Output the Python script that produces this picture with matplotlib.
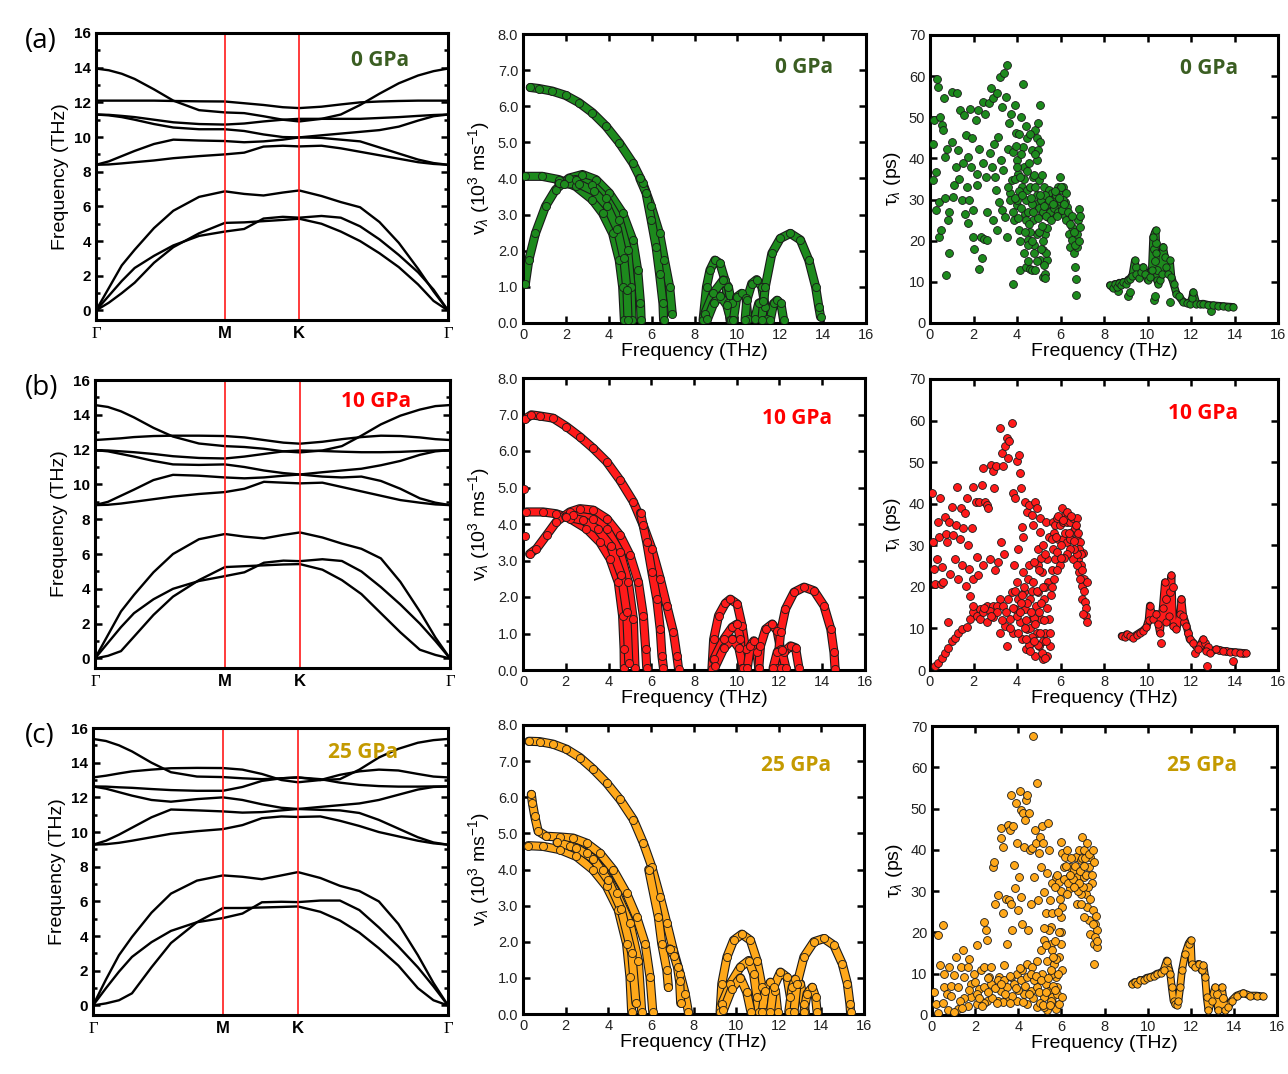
import numpy as np
import matplotlib
matplotlib.use("Agg")
import matplotlib.pyplot as plt
import matplotlib.patheffects as pe

plt.rcParams['font.family'] = ['Liberation Sans', 'DejaVu Sans']
plt.rcParams['mathtext.fontset'] = 'custom'
plt.rcParams['mathtext.rm'] = 'Liberation Sans'
plt.rcParams['mathtext.it'] = 'Liberation Sans:italic'

# ---- phonon dispersion (k path: G - M - K - G) ----
K_PATH = [0, 0.1, 0.2, 0.3, 0.45, 0.6, 0.8, 1.0, 1.15, 1.3, 1.45, 1.577,
          1.75, 1.9, 2.05, 2.2, 2.35, 2.5, 2.62, 2.732]
K_TICKS = [0, 1.0, 1.577, 2.732]
K_LABELS = ['Γ', 'M', 'K', 'Γ']

BANDS_0GPA = [
    [0, 1.3, 2.6, 3.5, 4.75, 5.75, 6.55, 6.87, 6.72, 6.63, 6.8, 6.92, 6.6, 6.25, 5.95, 5.1, 3.9, 2.4, 1.1, 0],
    [0, 0.45, 1.0, 1.6, 2.75, 3.65, 4.45, 5.05, 5.08, 5.15, 5.22, 5.29, 5.0, 4.55, 4.0, 3.3, 2.5, 1.5, 0.55, 0],
    [0, 0.85, 1.7, 2.45, 3.15, 3.75, 4.3, 4.55, 4.7, 5.3, 5.4, 5.35, 5.45, 5.35, 4.85, 4.1, 3.2, 2.2, 1.2, 0],
    [8.4, 8.42, 8.48, 8.55, 8.65, 8.78, 8.9, 9.0, 9.1, 9.45, 9.5, 9.46, 9.5, 9.35, 9.15, 8.95, 8.75, 8.55, 8.45, 8.4],
    [8.4, 8.6, 8.9, 9.2, 9.6, 9.85, 9.8, 9.77, 9.7, 9.75, 9.85, 9.98, 9.95, 9.85, 9.75, 9.4, 9.05, 8.7, 8.5, 8.4],
    [11.3, 11.25, 11.15, 11.0, 10.75, 10.55, 10.45, 10.45, 10.35, 10.15, 10.0, 9.98, 10.1, 10.2, 10.3, 10.4, 10.6, 10.95, 11.2, 11.3],
    [11.3, 11.28, 11.22, 11.15, 11.0, 10.85, 10.75, 10.72, 10.78, 10.9, 11.0, 11.05, 11.05, 11.05, 11.05, 11.1, 11.15, 11.22, 11.27, 11.3],
    [12.1, 12.1, 12.1, 12.1, 12.1, 12.08, 12.06, 12.05, 11.95, 11.85, 11.72, 11.67, 11.75, 11.88, 12.0, 12.05, 12.08, 12.1, 12.1, 12.1],
    [13.95, 13.85, 13.65, 13.35, 12.75, 12.1, 11.55, 11.42, 11.38, 11.2, 11.0, 10.9, 11.05, 11.3, 11.85, 12.5, 13.1, 13.55, 13.8, 13.95],
]
BANDS_10GPA = [
    [0, 1.35, 2.7, 3.65, 4.95, 6.0, 6.85, 7.15, 7.0, 6.9, 7.1, 7.24, 6.95, 6.6, 6.3, 5.75, 4.4, 2.7, 1.2, 0],
    [0, 0.15, 0.42, 1.25, 2.5, 3.55, 4.5, 5.25, 5.3, 5.35, 5.4, 5.42, 5.1, 4.5, 3.7, 2.6, 1.5, 0.5, 0.2, 0],
    [0, 0.9, 1.8, 2.6, 3.4, 4.0, 4.45, 4.73, 4.95, 5.5, 5.62, 5.59, 5.7, 5.6, 5.0, 4.1, 3.1, 2.0, 1.0, 0],
    [8.81, 8.83, 8.9, 9.0, 9.15, 9.3, 9.45, 9.56, 9.75, 10.15, 10.1, 10.06, 10.1, 9.85, 9.6, 9.35, 9.1, 8.95, 8.85, 8.81],
    [8.81, 9.0, 9.35, 9.7, 10.25, 10.55, 10.5, 10.4, 10.35, 10.4, 10.5, 10.57, 10.45, 10.4, 10.45, 10.2, 9.75, 9.2, 8.95, 8.81],
    [11.97, 11.9, 11.75, 11.6, 11.35, 11.15, 11.12, 11.15, 11.0, 10.8, 10.65, 10.57, 10.7, 10.8, 10.9, 11.1, 11.35, 11.7, 11.9, 11.97],
    [11.97, 11.95, 11.9, 11.85, 11.75, 11.62, 11.52, 11.49, 11.6, 11.75, 11.9, 11.95, 11.92, 11.88, 11.85, 11.85, 11.87, 11.92, 11.95, 11.97],
    [12.55, 12.6, 12.65, 12.72, 12.78, 12.8, 12.8, 12.78, 12.7, 12.55, 12.4, 12.34, 12.45, 12.6, 12.72, 12.8, 12.78, 12.7, 12.6, 12.55],
    [14.56, 14.45, 14.2, 13.85, 13.25, 12.75, 12.35, 12.2, 12.15, 12.05, 11.9, 11.84, 11.95, 12.2, 12.8, 13.45, 13.95, 14.3, 14.5, 14.56],
]
BANDS_25GPA = [
    [0, 1.5, 2.9, 3.95, 5.35, 6.45, 7.2, 7.5, 7.42, 7.28, 7.5, 7.69, 7.35, 6.9, 6.6, 6.0, 4.7, 2.9, 1.3, 0],
    [0, 0.12, 0.3, 0.7, 2.2, 3.6, 4.8, 5.62, 5.62, 5.65, 5.68, 5.71, 5.4, 4.9, 4.2, 3.3, 2.3, 1.0, 0.3, 0],
    [0, 1.0, 1.95, 2.8, 3.65, 4.3, 4.8, 5.04, 5.3, 5.95, 5.98, 5.96, 6.05, 6.05, 5.5, 4.5, 3.4, 2.2, 1.1, 0],
    [9.27, 9.3, 9.38, 9.5, 9.7, 9.9, 10.05, 10.17, 10.4, 10.8, 10.9, 10.87, 10.9, 10.65, 10.35, 10.0, 9.75, 9.5, 9.35, 9.27],
    [9.27, 9.5, 9.85, 10.25, 10.85, 11.3, 11.25, 11.19, 11.12, 11.15, 11.25, 11.33, 11.28, 11.25, 11.1, 10.7, 10.2, 9.7, 9.4, 9.27],
    [12.63, 12.5, 12.3, 12.1, 11.85, 11.75, 11.9, 12.0, 11.85, 11.6, 11.4, 11.33, 11.45, 11.55, 11.65, 11.85, 12.15, 12.45, 12.6, 12.63],
    [12.63, 12.62, 12.58, 12.55, 12.48, 12.42, 12.38, 12.38, 12.6, 12.95, 13.1, 13.15, 13.05, 12.85, 12.72, 12.65, 12.62, 12.62, 12.63, 12.63],
    [13.15, 13.25, 13.38, 13.5, 13.6, 13.68, 13.7, 13.69, 13.6, 13.35, 13.0, 12.87, 13.0, 13.3, 13.5, 13.6, 13.55, 13.35, 13.2, 13.15],
    [15.37, 15.25, 15.0, 14.65, 14.0, 13.45, 13.2, 13.17, 13.1, 13.05, 13.1, 13.15, 13.0, 13.05, 13.6, 14.3, 14.8, 15.15, 15.3, 15.37],
]

# ---- group velocity branches: (frequency THz, velocity 1e3 m/s) ----
VEL_0GPA = [
    ([0.34, 0.74, 1.36, 1.99, 2.61, 3.24, 3.87, 4.49, 5.12, 5.59, 5.98, 6.37, 6.6, 6.84, 6.96],
     [6.52, 6.49, 6.42, 6.3, 6.1, 5.82, 5.45, 4.99, 4.43, 3.87, 3.23, 2.48, 1.74, 1.0, 0.26]),
    ([5.45, 5.74, 5.98, 6.21, 6.37, 6.53, 6.56], [4.0, 3.6, 2.85, 2.11, 1.37, 0.54, 0.07]),
    ([0.11, 0.89, 1.67, 2.46, 3.24, 3.71, 4.18, 4.49, 4.65, 4.73],
     [4.06, 4.06, 3.97, 3.78, 3.41, 3.04, 2.48, 1.74, 1.0, 0.07]),
    ([0.11, 0.27, 0.58, 1.05, 1.52, 2.14, 2.77, 3.4, 4.02, 4.65, 5.12, 5.35, 5.48, 5.51],
     [1.09, 1.74, 2.48, 3.23, 3.69, 4.01, 4.11, 3.97, 3.6, 3.04, 2.3, 1.46, 0.54, 0.07]),
    ([1.67, 2.46, 3.24, 3.87, 4.49, 4.88, 5.04, 5.09], [3.87, 3.97, 3.83, 3.46, 2.85, 2.02, 1.0, 0.07]),
    ([1.9, 2.6, 3.3, 3.9, 4.4, 4.7, 4.85, 4.9], [3.85, 3.85, 3.65, 3.25, 2.6, 1.8, 0.9, 0.07]),
    ([8.4, 8.56, 8.72, 8.95, 9.19, 9.42, 9.58, 9.66], [0.07, 1.0, 1.46, 1.74, 1.65, 1.19, 0.54, 0.07]),
    ([8.48, 8.87, 9.34, 9.58, 9.73, 9.81], [0.26, 0.82, 1.19, 1.0, 0.54, 0.07]),
    ([8.6, 8.9, 9.2, 9.5, 9.7], [0.1, 0.55, 0.75, 0.5, 0.07]),
    ([9.81, 9.97, 10.2, 10.4, 10.5], [0.07, 0.72, 0.82, 0.7, 0.1]),
    ([10.36, 10.44, 10.67, 10.9, 11.14, 11.3, 11.35], [0.07, 0.63, 1.09, 1.2, 1.0, 0.44, 0.07]),
    ([10.8, 11.0, 11.2, 11.4], [0.1, 0.55, 0.6, 0.1]),
    ([11.14, 11.3, 11.61, 12.0, 12.47, 12.94, 13.33, 13.65, 13.8, 13.88],
     [0.07, 1.0, 1.93, 2.34, 2.48, 2.3, 1.74, 1.0, 0.44, 0.17]),
    ([11.53, 11.69, 11.85, 12.03, 12.16], [0.07, 0.54, 0.63, 0.54, 0.07]),
]
VEL_10GPA = [
    ([0.08, 0.39, 0.78, 1.41, 2.03, 2.66, 3.29, 3.91, 4.54, 5.16, 5.63, 6.03, 6.42, 6.73, 7.04, 7.2, 7.28],
     [6.87, 6.99, 6.96, 6.9, 6.67, 6.39, 6.07, 5.71, 5.2, 4.61, 3.96, 3.32, 2.5, 1.76, 1.03, 0.39, 0.02]),
    ([5.5, 5.79, 6.03, 6.26, 6.42, 6.5, 6.57], [4.3, 3.5, 2.68, 1.94, 1.12, 0.39, 0.06]),
    ([0.16, 0.94, 1.56, 2.19, 2.97, 3.6, 4.07, 4.46, 4.66, 4.73, 4.74],
     [4.33, 4.33, 4.28, 4.15, 3.87, 3.5, 3.05, 2.4, 1.49, 0.57, 0.06]),
    ([0.31, 0.63, 1.1, 1.56, 2.19, 2.66, 3.29, 3.91, 4.54, 5.01, 5.4, 5.63, 5.74, 5.79],
     [3.18, 3.32, 3.69, 4.06, 4.33, 4.42, 4.38, 4.15, 3.69, 3.14, 2.4, 1.49, 0.57, 0.06]),
    ([2.35, 3.29, 3.91, 4.54, 4.93, 5.16, 5.24], [4.24, 4.15, 3.87, 3.23, 2.4, 1.39, 0.06]),
    ([2.0, 2.8, 3.5, 4.1, 4.6, 4.85, 4.95], [4.2, 4.1, 3.85, 3.4, 2.6, 1.6, 0.2]),
    ([0.05], [4.97]),
    ([0.1], [3.67]),
    ([8.84, 8.92, 9.15, 9.47, 9.7, 10.02, 10.25, 10.41, 10.49], [0.02, 0.84, 1.49, 1.83, 1.94, 1.81, 1.21, 0.57, 0.05]),
    ([8.92, 9.39, 9.78, 10.02, 10.17, 10.25], [0.29, 0.84, 1.17, 1.26, 0.84, 0.05]),
    ([9.0, 9.4, 9.8, 10.1, 10.3], [0.1, 0.6, 0.85, 0.6, 0.05]),
    ([10.49, 10.64, 10.8, 10.95, 11.03], [0.05, 0.66, 0.8, 0.48, 0.05]),
    ([11.03, 11.11, 11.35, 11.66, 11.89, 12.05, 12.13], [0.05, 0.66, 1.12, 1.26, 1.07, 0.57, 0.05]),
    ([11.89, 12.05, 12.28, 12.68, 13.15, 13.62, 14.08, 14.4, 14.55, 14.6],
     [0.05, 1.03, 1.67, 2.13, 2.27, 2.17, 1.76, 1.12, 0.48, 0.02]),
    ([12.05, 12.2, 12.52, 12.75, 12.91], [0.05, 0.48, 0.66, 0.61, 0.05]),
    ([11.7, 11.9, 12.1, 12.3], [0.05, 0.5, 0.55, 0.05]),
]
VEL_25GPA = [
    ([0.27, 0.78, 1.41, 2.04, 2.67, 3.29, 3.92, 4.55, 5.18, 5.65, 6.04, 6.43, 6.75, 7.06, 7.37, 7.61, 7.76],
     [7.55, 7.54, 7.47, 7.33, 7.1, 6.78, 6.4, 5.94, 5.38, 4.73, 4.08, 3.25, 2.51, 1.76, 1.11, 0.56, 0.05]),
    ([5.9, 6.35, 6.51, 6.75, 6.82], [4.0, 2.69, 1.95, 1.21, 0.74]),
    ([6.9, 7.1, 7.25, 7.35, 7.4], [1.8, 1.6, 1.3, 0.9, 0.3]),
    ([0.39, 0.44, 0.55, 0.71, 1.1, 1.73, 2.35, 2.98, 3.61, 4.24, 4.86, 5.33, 5.73, 5.96, 6.09],
     [6.08, 5.85, 5.48, 5.06, 4.92, 4.9, 4.87, 4.73, 4.45, 3.99, 3.34, 2.69, 1.95, 1.02, 0.05]),
    ([0.24, 0.94, 1.73, 2.51, 3.29, 3.92, 4.47, 4.86, 5.02, 5.1],
     [4.66, 4.64, 4.55, 4.36, 3.99, 3.53, 2.88, 1.95, 1.02, 0.05]),
    ([2.2, 2.98, 3.76, 4.39, 5.02, 5.41, 5.57], [4.64, 4.45, 3.99, 3.34, 2.51, 1.48, 0.05]),
    ([1.6, 2.5, 3.3, 4.0, 4.6, 5.1, 5.3], [4.75, 4.6, 4.3, 3.7, 2.9, 1.7, 0.3]),
    ([9.25, 9.33, 9.57, 9.88, 10.27, 10.67, 10.98, 11.22, 11.33], [0.05, 0.84, 1.58, 2.04, 2.21, 2.04, 1.48, 0.74, 0.05]),
    ([9.33, 9.73, 10.2, 10.59, 10.82, 10.98, 11.06], [0.28, 0.84, 1.3, 1.48, 1.11, 0.46, 0.05]),
    ([9.4, 9.8, 10.2, 10.5, 10.7], [0.1, 0.7, 1.0, 0.6, 0.05]),
    ([11.22, 11.37, 11.61, 11.84, 11.95], [0.05, 0.65, 0.88, 0.65, 0.05]),
    ([11.61, 11.76, 12.08, 12.39, 12.55, 12.63], [0.05, 0.74, 1.16, 1.02, 0.46, 0.05]),
    ([12.47, 12.63, 12.78, 13.02, 13.18, 13.25], [0.05, 0.74, 0.97, 0.84, 0.28, 0.05]),
    ([13.18, 13.33, 13.57, 13.73, 13.8], [0.05, 0.56, 0.74, 0.46, 0.05]),
    ([12.71, 12.86, 13.18, 13.65, 14.12, 14.59, 14.98, 15.22, 15.34, 15.37],
     [0.05, 0.84, 1.58, 2.0, 2.09, 1.9, 1.39, 0.84, 0.28, 0.05]),
]

# ---- phonon lifetimes, scattered modes: (frequency THz, lifetime ps) ----
TAU_0GPA = [
    (0.12, 34.7), (0.15, 43.6), (0.18, 49.3), (0.26, 36.7), (0.26, 27.4), (0.31, 59.4), (0.35, 57.4),
    (0.46, 50.1), (0.41, 29.4), (0.43, 20.9), (0.49, 22.5), (0.54, 48.1), (0.61, 46.9), (0.64, 54.6),
    (0.69, 40.4), (0.67, 30.4), (0.72, 11.6), (0.8, 42.4), (0.84, 25.0), (0.87, 16.9), (0.89, 27.0),
    (1.0, 44.0), (1.03, 56.2), (1.07, 30.7), (1.1, 33.5), (1.19, 38.0), (1.26, 55.8), (1.3, 42.0),
    (1.35, 35.1), (1.38, 51.7), (1.45, 29.8), (1.53, 38.8), (1.58, 50.5), (1.61, 26.6), (1.64, 45.7),
    (1.68, 33.1), (1.73, 40.4), (1.76, 24.2), (1.81, 29.8), (1.84, 52.1), (1.88, 38.0), (1.91, 44.9),
    (1.96, 27.4), (1.99, 20.9), (2.04, 18.1), (2.11, 49.3), (2.14, 36.3), (2.17, 33.5), (2.22, 51.7),
    (2.25, 42.4), (2.27, 13.2), (2.33, 20.9), (2.37, 15.7), (2.42, 38.8), (2.45, 53.8), (2.48, 20.5),
    (2.53, 50.9), (2.57, 35.5), (2.6, 27.0), (2.63, 20.1), (2.73, 53.4), (2.76, 41.2), (2.79, 57.0),
    (2.83, 38.0), (2.88, 25.0), (2.91, 54.6), (2.94, 43.6), (2.99, 35.5), (3.03, 32.3), (3.06, 55.8),
    (3.09, 22.5), (3.14, 45.3), (3.17, 29.4), (3.22, 59.9), (3.26, 39.6), (3.29, 27.4), (3.32, 52.6),
    (3.37, 37.1), (3.4, 60.7), (3.45, 25.8), (3.49, 55.0), (3.52, 20.9), (3.55, 62.7), (3.6, 42.4),
    (3.64, 48.5), (3.68, 31.5), (3.72, 50.9), (3.75, 34.7), (3.8, 41.6), (3.83, 9.6), (3.86, 25.0),
    (3.9, 53.0), (3.94, 46.1), (3.98, 39.6), (4.01, 28.6), (4.06, 36.3), (4.09, 22.5), (4.13, 12.8),
    (4.17, 50.1), (4.21, 33.1), (4.26, 42.8), (4.29, 58.2), (4.32, 38.0), (4.36, 26.6), (4.41, 13.6),
    (4.44, 44.9), (4.47, 32.3), (4.52, 20.1), (4.56, 38.8), (4.59, 29.8), (4.62, 13.2), (4.67, 42.0),
    (4.72, 25.0), (4.75, 35.5), (4.78, 16.9), (4.82, 46.9), (4.87, 29.0), (4.9, 39.6), (4.93, 21.7),
    (4.98, 48.5), (5.01, 34.7), (5.05, 15.2), (5.08, 53.0), (5.13, 26.6), (5.18, 17.7), (5.21, 11.2),
    (5.25, 33.1), (5.28, 21.7), (5.33, 29.8), (5.36, 15.2), (5.44, 25.8), (5.48, 32.3), (5.51, 28.2),
    (5.59, 31.5), (5.67, 26.6), (5.74, 30.7), (5.82, 28.2), (5.9, 33.1), (5.97, 35.5), (6.0, 29.4),
    (6.05, 32.3), (6.13, 33.1), (6.2, 29.4), (6.25, 31.5), (6.31, 28.2), (6.36, 25.0), (6.4, 21.7),
    (6.43, 18.5), (6.51, 23.4), (6.55, 20.1), (6.62, 16.9), (6.66, 13.6), (6.71, 10.8), (6.71, 6.7),
    (6.74, 18.5), (6.77, 21.7), (6.81, 25.0), (6.86, 27.8), (6.89, 23.4),
    (4.0, 30.0), (4.1, 32.0), (4.2, 28.0), (4.3, 35.0), (4.4, 30.0), (4.5, 27.0), (4.6, 33.0),
    (4.7, 29.0), (4.8, 36.0), (4.9, 31.0), (5.0, 28.0), (5.1, 30.0), (5.2, 27.0), (5.3, 31.0),
    (5.4, 29.0), (5.5, 27.0), (5.6, 30.0), (5.7, 28.0), (5.8, 31.0), (5.9, 27.0), (6.0, 33.0),
    (6.1, 30.0), (6.2, 26.0), (3.6, 33.0), (3.7, 30.0), (3.8, 27.0), (3.9, 35.0), (4.0, 38.0),
    (4.2, 41.0), (4.4, 25.0), (4.6, 22.0), (4.8, 19.0), (5.0, 22.0), (5.2, 20.0), (5.4, 23.0),
    (4.5, 15.0), (4.7, 13.0), (5.3, 12.0), (5.25, 14.0), (5.35, 17.0),
    (3.9, 30.5), (4.05, 25.5), (4.15, 35.5), (4.25, 31.0), (4.35, 22.0), (4.45, 37.0), (4.55, 24.0),
    (4.65, 30.5), (4.75, 27.0), (4.85, 33.0), (4.95, 25.5), (5.05, 31.0), (5.15, 23.5), (5.25, 28.5),
    (5.35, 26.0), (5.45, 30.0), (5.55, 25.0), (5.65, 29.0), (5.75, 32.0), (5.85, 26.0), (5.95, 30.5),
    (6.05, 27.5), (6.15, 29.0), (6.25, 25.0), (6.35, 27.0), (6.45, 24.0), (6.55, 26.0), (6.6, 22.0),
    (6.65, 19.0), (6.85, 20.0), (6.9, 26.0), (4.9, 45.0), (4.95, 42.0), (5.05, 44.0), (4.85, 41.0),
    (4.6, 46.0), (4.4, 48.0), (4.1, 46.0), (3.95, 43.0), (4.15, 20.0), (4.3, 17.0), (4.5, 19.0),
    (4.7, 20.0), (4.9, 15.0), (5.1, 18.0), (5.3, 11.0), (4.85, 13.0), (5.15, 36.0),
    (8.65, 7.8), (9.1, 6.5), (9.2, 7.5), (9.45, 13.5), (10.3, 18.0), (10.3, 5.5), (10.33, 15.0),
    (10.35, 6.5), (10.4, 19.5), (10.42, 13.0), (11.05, 5.2), (12.9, 3.0),
]
TAU_10GPA = [
    (0.08, 42.5), (0.15, 30.8), (0.2, 24.4), (0.23, 20.7), (0.31, 26.8), (0.38, 35.7), (0.41, 32.0),
    (0.46, 41.3), (0.49, 20.7), (0.54, 24.8), (0.61, 21.1), (0.69, 36.9), (0.74, 32.8), (0.8, 30.8),
    (0.84, 11.5), (0.89, 35.7), (0.92, 23.2), (1.0, 39.3), (1.07, 32.4), (1.15, 26.8), (1.19, 34.9),
    (1.26, 44.1), (1.3, 22.0), (1.38, 31.6), (1.42, 38.9), (1.49, 25.2), (1.53, 34.1), (1.61, 37.7),
    (1.65, 20.3), (1.72, 41.3), (1.76, 30.0), (1.81, 24.4), (1.84, 17.9), (1.91, 34.1), (1.96, 44.1),
    (1.99, 22.0), (2.11, 40.5), (2.14, 27.2), (2.22, 22.8), (2.27, 40.5), (2.37, 44.6), (2.42, 48.6),
    (2.45, 25.2), (2.53, 40.5), (2.6, 39.7), (2.68, 38.9), (2.76, 26.8), (2.79, 49.4), (2.88, 47.8),
    (2.94, 43.7), (2.99, 24.0), (3.03, 49.0), (3.14, 26.0), (3.22, 58.3), (3.25, 30.8), (3.29, 52.2),
    (3.37, 49.0), (3.4, 28.0), (3.45, 53.8), (3.52, 55.9), (3.57, 51.0), (3.64, 55.0), (3.75, 59.5),
    (3.83, 42.5), (3.86, 25.2), (3.9, 41.3), (3.98, 50.2), (4.06, 29.2), (4.1, 51.8), (4.13, 47.4),
    (4.18, 43.7), (4.21, 34.5), (4.26, 32.0), (4.36, 40.5), (4.44, 38.1), (4.56, 39.7), (4.67, 37.3),
    (4.75, 34.9), (4.82, 40.5), (4.9, 38.9), (4.98, 25.2), (5.05, 36.5),
    (0.23, 1.0), (0.38, 1.8), (0.54, 3.0), (0.69, 4.2), (0.84, 5.4), (1.0, 7.0), (1.15, 7.8),
    (1.3, 9.0), (1.45, 9.8), (1.68, 10.3), (1.84, 12.3), (1.99, 13.9), (2.3, 14.7), (2.6, 15.5),
    (2.91, 15.5), (3.22, 17.1),
    (1.99, 15.5), (2.14, 13.1), (2.3, 12.3), (2.45, 13.9), (2.6, 11.5), (2.76, 14.3), (2.91, 12.7),
    (3.06, 15.5), (3.22, 9.0), (3.37, 15.5), (3.45, 10.7), (3.52, 5.8), (3.6, 17.1), (3.68, 12.3),
    (3.75, 18.7), (3.83, 9.0), (3.9, 14.7), (3.98, 21.1), (4.06, 17.1), (4.13, 11.5), (4.21, 7.4),
    (4.26, 23.6), (4.32, 18.7), (4.36, 14.7), (4.41, 5.0), (4.47, 9.8), (4.52, 22.0), (4.56, 25.2),
    (4.59, 17.1), (4.64, 6.6), (4.69, 12.3), (4.75, 21.1), (4.79, 26.0), (4.84, 3.4), (4.87, 15.5),
    (4.9, 9.0), (4.95, 29.2), (4.98, 18.7), (5.02, 5.8), (5.05, 33.3), (5.1, 12.3), (5.15, 23.6),
    (5.18, 2.6), (5.21, 30.0), (5.25, 17.1), (5.28, 9.0), (5.33, 35.7), (5.36, 26.8), (5.39, 3.4),
    (5.44, 21.1), (5.48, 12.3), (5.51, 5.8), (4.4, 12.0), (4.6, 10.0), (4.8, 12.5), (5.0, 14.0),
    (5.2, 7.0), (4.3, 20.0), (4.7, 19.0), (5.1, 27.0), (5.3, 20.0), (4.0, 13.0), (3.8, 15.0),
    (4.05, 9.0), (4.15, 14.0), (4.25, 18.0), (4.35, 10.0), (4.45, 16.0), (4.55, 6.0), (4.65, 14.0),
    (4.7, 8.0), (4.85, 11.0), (4.9, 19.0), (4.95, 6.0), (5.0, 24.0), (5.05, 9.0), (5.1, 16.0),
    (5.15, 4.0), (5.2, 20.0), (5.25, 12.0), (5.3, 28.0), (5.35, 7.0), (5.4, 15.0), (5.45, 32.0),
    (5.5, 9.0), (5.3, 3.0), (4.8, 7.0), (4.6, 4.5), (4.4, 7.5), (4.2, 16.0), (3.9, 19.0), (3.7, 10.0),
    (3.5, 14.0), (3.3, 12.0), (3.1, 14.0), (2.8, 13.0), (2.5, 15.0), (5.55, 18.0), (5.6, 24.0),
    (5.65, 29.0), (5.7, 33.0),
    (5.59, 31.6), (5.67, 35.7), (5.74, 34.9), (5.82, 36.5), (5.9, 31.6), (5.97, 34.9), (6.05, 38.9),
    (6.13, 35.7), (6.2, 37.3), (6.28, 35.7), (6.36, 36.9), (6.43, 35.7), (6.51, 33.3), (6.58, 36.5),
    (6.66, 34.1), (6.74, 36.5), (6.77, 31.6), (6.81, 26.8), (6.86, 23.6), (6.89, 30.8), (6.94, 25.2),
    (6.98, 20.3), (7.01, 17.1), (7.04, 28.2), (7.07, 21.9), (7.12, 16.3), (7.17, 13.1), (7.2, 11.5),
    (7.2, 21.1), (5.74, 26.8), (5.82, 28.4), (5.97, 25.2), (6.13, 31.6), (6.28, 30.8), (6.43, 31.6),
    (6.58, 26.8), (6.74, 25.2), (5.8, 32.0), (5.9, 37.0), (6.0, 30.0), (6.1, 36.0), (6.2, 33.0),
    (6.3, 38.0), (6.4, 33.0), (6.5, 37.0), (6.6, 31.0), (6.7, 35.0), (6.8, 33.0), (6.85, 29.0),
    (6.95, 28.0), (7.0, 24.0), (7.1, 19.0), (7.15, 15.0), (7.05, 13.5), (6.9, 22.0), (6.75, 28.0),
    (6.6, 29.0), (6.45, 29.0), (6.3, 28.0), (6.15, 27.0), (6.0, 27.0), (5.85, 24.0), (5.7, 22.0),
    (5.6, 20.0),
    (10.64, 6.6), (10.85, 17.0), (11.03, 18.7), (11.15, 20.0), (11.7, 11.5), (11.85, 9.0),
    (12.17, 4.2), (12.4, 6.0), (12.65, 6.5), (12.74, 1.0), (12.8, 5.5), (13.3, 4.8), (13.6, 4.5),
    (13.94, 2.2), (14.4, 4.1),
]
TAU_25GPA = [
    (0.08, 5.5), (0.18, 2.7), (0.26, 19.3), (0.37, 12.0), (0.49, 21.7), (0.54, 10.0), (0.57, 6.7),
    (0.69, 5.1), (0.8, 11.6), (0.88, 7.1), (1.03, 9.6), (1.11, 14.0), (1.22, 6.7), (1.34, 11.6),
    (1.42, 15.7), (1.49, 9.2), (1.65, 11.6), (1.73, 13.6), (1.8, 7.5), (1.96, 10.0), (2.11, 16.9),
    (2.19, 6.3), (2.27, 10.8), (2.39, 22.5), (2.42, 11.6), (2.5, 20.5), (2.57, 18.1), (2.65, 9.2),
    (2.73, 11.6), (2.82, 35.9), (2.88, 37.1), (2.91, 27.0), (3.04, 29.0), (3.11, 9.2), (3.19, 45.3),
    (3.22, 42.8), (3.27, 40.8), (3.31, 24.6), (3.34, 12.0), (3.42, 28.2), (3.5, 17.3), (3.53, 46.1),
    (3.57, 27.8), (3.62, 44.9), (3.65, 53.4), (3.68, 27.0), (3.73, 20.5), (3.77, 45.7), (3.8, 36.3),
    (3.84, 30.7), (3.88, 51.3), (3.96, 41.6), (4.0, 25.4), (4.04, 33.5), (4.07, 54.2), (4.11, 49.7),
    (4.14, 28.6), (4.19, 22.1), (4.24, 48.9), (4.27, 40.8), (4.31, 47.3), (4.36, 52.1), (4.42, 53.4),
    (4.45, 20.5), (4.5, 48.9), (4.55, 40.0), (4.58, 27.0), (4.64, 40.4), (4.68, 67.6), (4.73, 33.5),
    (4.78, 44.9), (4.82, 41.6), (4.88, 56.2), (4.92, 27.8), (4.96, 39.2), (5.01, 43.2), (5.07, 35.9),
    (5.12, 45.7), (5.16, 41.6), (5.19, 29.8), (5.27, 24.6), (5.35, 34.3), (5.38, 46.5), (5.42, 40.0),
    (5.47, 27.8), (5.5, 21.3), (5.58, 24.6),
    (0.26, 0.6), (0.72, 1.1), (1.19, 1.5), (1.65, 2.3), (2.11, 2.7), (2.57, 3.5), (3.04, 3.5),
    (3.5, 3.9), (3.96, 3.5), (4.42, 2.7), (4.88, 1.9), (5.35, 1.1), (1.8, 4.3), (2.11, 5.1),
    (2.42, 6.7), (2.73, 7.5), (3.04, 8.4), (3.34, 8.4), (3.65, 9.2), (3.96, 10.0), (4.19, 10.8),
    (4.42, 12.4), (4.65, 11.6), (4.88, 13.2), (5.12, 10.0), (5.27, 7.5), (5.42, 5.9), (5.58, 4.3),
    (5.65, 2.7), (5.73, 1.5), (4.27, 5.1), (4.58, 5.9), (4.88, 6.7), (5.19, 4.3), (5.5, 3.5),
    (3.19, 5.9), (3.5, 6.7), (3.8, 7.5), (4.11, 8.4), (4.42, 9.2), (4.73, 8.4), (5.04, 15.7),
    (5.19, 18.1), (5.35, 13.2), (5.42, 20.5), (5.5, 17.3), (5.58, 15.7), (5.65, 12.4), (5.73, 9.2),
    (5.81, 5.1), (5.88, 2.7), (5.81, 6.7), (5.96, 23.8), (5.99, 17.3), (6.04, 26.2), (6.04, 10.8),
    (6.04, 4.3), (1.0, 0.8), (2.4, 3.0), (2.8, 4.0), (3.3, 3.2), (4.7, 4.0), (5.0, 3.0), (5.2, 2.0),
    (4.0, 6.0), (3.7, 4.5), (2.0, 8.0), (2.6, 9.0), (1.5, 4.0), (5.6, 7.0), (5.9, 14.0), (6.0, 20.0),
    (0.5, 3.0), (0.9, 4.5), (1.3, 3.5), (1.7, 6.0), (2.2, 4.0), (2.6, 5.5), (2.9, 6.5), (3.2, 7.5),
    (3.4, 5.0), (3.6, 9.5), (3.9, 6.5), (4.1, 11.5), (4.3, 7.0), (4.5, 5.0), (4.6, 10.0), (4.8, 9.5),
    (4.95, 5.5), (5.05, 8.5), (5.15, 2.5), (5.3, 5.5), (5.45, 2.5), (5.55, 10.0), (5.7, 6.0),
    (5.75, 13.5), (5.85, 10.0), (5.9, 20.0), (5.95, 28.0), (6.0, 30.0), (5.85, 25.0), (5.7, 18.0),
    (5.6, 14.0), (5.5, 11.0), (5.4, 9.0), (5.3, 17.0), (5.2, 21.0), (4.2, 3.2), (3.6, 3.0),
    (3.0, 2.8), (2.3, 2.2), (1.4, 1.8),
    (5.58, 31.9), (5.73, 33.5), (5.88, 32.3), (5.96, 42.0), (6.04, 39.2), (6.12, 35.9), (6.19, 38.3),
    (6.27, 40.0), (6.35, 33.5), (6.42, 35.9), (6.5, 31.9), (6.58, 35.1), (6.66, 38.3), (6.73, 33.5),
    (6.81, 40.0), (6.89, 37.6), (6.96, 43.2), (7.04, 40.0), (7.04, 33.5), (7.12, 29.4), (7.2, 41.6),
    (7.2, 26.2), (7.27, 35.9), (7.27, 23.0), (7.35, 38.3), (7.35, 19.7), (7.43, 31.9), (7.47, 25.4),
    (7.5, 17.3), (7.5, 12.4), (7.58, 22.1), (7.66, 20.5), (7.66, 16.5), (6.89, 29.4), (6.73, 27.0),
    (7.04, 23.8), (6.42, 30.7), (6.27, 29.4), (5.7, 31.0), (5.8, 34.0), (6.1, 33.0), (6.2, 36.0),
    (6.3, 32.0), (6.45, 38.0), (6.55, 33.0), (6.65, 36.0), (6.75, 30.0), (6.85, 35.0), (6.95, 38.0),
    (7.05, 36.0), (7.15, 34.0), (7.25, 31.0), (7.35, 28.0), (7.4, 34.0), (7.45, 22.0), (7.55, 19.0),
    (7.6, 24.0), (7.65, 18.0), (7.1, 38.0), (7.0, 31.0), (6.9, 27.0), (6.8, 32.0), (6.6, 31.0),
    (6.4, 34.0), (7.3, 39.0), (7.45, 40.0), (7.5, 37.0),
    (10.95, 11.0), (13.2, 5.0), (13.5, 4.0),
]

# ---- phonon lifetimes, continuous optical traces (ordered in frequency) ----
TRACE_0GPA = [
    (8.27, 9.2), (8.4, 8.6), (8.5, 9.5), (8.58, 8.8), (8.7, 9.8), (8.8, 9.2), (8.88, 10.0), (9.0, 9.5),
    (9.1, 10.5), (9.19, 10.8), (9.3, 11.5), (9.42, 15.2), (9.49, 12.0), (9.6, 11.0), (9.7, 12.5),
    (9.8, 13.6), (9.9, 12.0), (10.0, 10.5), (10.11, 11.2), (10.2, 13.0), (10.26, 20.9), (10.38, 22.5),
    (10.41, 16.9), (10.44, 10.4), (10.5, 9.5), (10.57, 10.4), (10.65, 12.0), (10.72, 18.5),
    (10.8, 16.0), (10.87, 13.6), (10.95, 12.0), (11.03, 15.2), (11.1, 11.2), (11.2, 9.5),
    (11.33, 7.1), (11.45, 6.5), (11.64, 5.1), (11.8, 4.9), (11.94, 4.7), (12.05, 6.0), (12.1, 7.5),
    (12.25, 4.7), (12.4, 4.6), (12.56, 4.7), (12.8, 4.4), (13.02, 4.3), (13.25, 4.2), (13.48, 4.1),
    (13.7, 4.0), (13.94, 3.9),
]
TRACE_10GPA = [
    (8.81, 8.2), (8.95, 8.0), (9.04, 8.6), (9.2, 8.2), (9.34, 7.8), (9.5, 8.5), (9.65, 9.0), (9.8, 9.5),
    (9.95, 10.3), (10.05, 12.0), (10.11, 15.5), (10.26, 12.3), (10.41, 13.5), (10.5, 11.0),
    (10.57, 9.0), (10.7, 15.0), (10.8, 21.1), (10.87, 11.5), (11.0, 13.0), (11.1, 22.8),
    (11.18, 10.7), (11.33, 9.8), (11.5, 13.5), (11.56, 17.1), (11.64, 13.1), (11.79, 10.7),
    (11.94, 7.4), (12.1, 6.6), (12.33, 5.0), (12.56, 7.4), (12.71, 4.6), (12.86, 4.2), (13.17, 5.0),
    (13.48, 4.6), (13.78, 4.4), (14.0, 4.3), (14.24, 4.2), (14.55, 4.0),
]
TRACE_25GPA = [
    (9.28, 7.5), (9.4, 8.0), (9.51, 7.5), (9.65, 8.5), (9.82, 8.4), (9.95, 9.0), (10.12, 9.2),
    (10.3, 9.5), (10.43, 10.0), (10.6, 10.2), (10.74, 10.8), (10.89, 13.2), (11.05, 10.0),
    (11.12, 6.7), (11.2, 3.5), (11.28, 2.7), (11.35, 2.5), (11.43, 3.5), (11.51, 6.7), (11.59, 10.8),
    (11.74, 14.8), (11.9, 17.3), (12.0, 18.1), (12.05, 12.4), (12.2, 11.6), (12.36, 12.4),
    (12.51, 10.8), (12.59, 12.0), (12.67, 9.2), (12.74, 4.3), (12.82, 1.1), (12.97, 3.5),
    (13.13, 6.7), (13.28, 1.1), (13.44, 6.7), (13.59, 1.1), (13.74, 1.9), (13.9, 3.5), (14.13, 4.7),
    (14.44, 5.3), (14.75, 4.7), (15.05, 4.7), (15.36, 4.5),
]

PRESSURES = ['0 GPa', '10 GPa', '25 GPa']
TEXT_COLORS = ['#3b5e22', '#ff0000', '#c49a00']
DOT_COLORS = ['#1d8a1d', '#ff1a1a', '#ffa81a']
PANEL_TAGS = ['(a)', '(b)', '(c)']

W, H = 1288, 1074
fig = plt.figure(figsize=(W / 100, H / 100), dpi=100)


def px_axes(l, t, r, b):
    return fig.add_axes([l / W, 1 - b / H, (r - l) / W, (b - t) / H])


LEFT_BOX = [(96, 33, 448, 320), (95, 380, 450, 668), (93, 728, 448, 1015)]
MID_BOX = [(523, 34, 866, 323), (523, 378, 865, 670), (523, 725, 864, 1014)]
RIGHT_BOX = [(930, 35, 1278, 323), (930, 379, 1278, 670), (932, 726, 1277, 1015)]
LABEL_POS_LEFT = [(0.89, 0.905), (0.89, 0.925), (0.86, 0.915)]
LABEL_POS_MID = [(0.905, 0.885), (0.905, 0.86), (0.905, 0.86)]
LABEL_POS_RIGHT = [(0.885, 0.885), (0.885, 0.88), (0.885, 0.865)]

all_bands = [BANDS_0GPA, BANDS_10GPA, BANDS_25GPA]
all_vel = [VEL_0GPA, VEL_10GPA, VEL_25GPA]
all_tau = [TAU_0GPA, TAU_10GPA, TAU_25GPA]
all_trace = [TRACE_0GPA, TRACE_10GPA, TRACE_25GPA]


def frame(ax):
    for sp in ax.spines.values():
        sp.set_linewidth(2.2)


def tube(ax, f, y, fc, lw, s):
    ax.plot(f, y, color=fc, lw=lw, solid_capstyle='round', solid_joinstyle='round', zorder=2,
            path_effects=[pe.Stroke(linewidth=lw + 1.6, foreground='#1a1a1a'), pe.Normal()])
    ax.scatter(f, y, s=s, c=fc, edgecolors='#1a1a1a', linewidths=0.6, zorder=3)


for row in range(3):
    # dispersion
    ax = px_axes(*LEFT_BOX[row])
    for band in all_bands[row]:
        ax.plot(K_PATH, band, color='black', lw=1.7)
    for kx in K_TICKS[1:3]:
        ax.axvline(kx, color='#ff1a1a', lw=1.2)
    ax.set_xlim(0, 2.732)
    ax.set_ylim(-0.55, 16)
    ax.set_yticks(range(0, 17, 2))
    ax.set_yticks(range(1, 16, 2), minor=True)
    ax.tick_params(axis='y', which='both', direction='in', left=True, right=True, width=1.8)
    ax.tick_params(axis='y', which='major', length=5, labelsize=11)
    ax.tick_params(axis='y', which='minor', length=3)
    for lab in ax.get_yticklabels():
        lab.set_fontweight('bold')
    ax.set_xticks(K_TICKS)
    ax.set_xticklabels(K_LABELS)
    ax.tick_params(axis='x', length=0, pad=4)
    for lab in ax.get_xticklabels():
        if lab.get_text() == 'Γ':
            lab.set_fontfamily('Liberation Serif')
        else:
            lab.set_fontweight('bold')
        lab.set_fontsize(12)
    ax.set_ylabel('Frequency (THz)', fontsize=14, labelpad=4)
    frame(ax)
    ax.text(*LABEL_POS_LEFT[row], PRESSURES[row], transform=ax.transAxes, ha='right', va='center',
            fontsize=15, fontweight='bold', color=TEXT_COLORS[row], family='Open Sans')
    fig.text(25 / W, 1 - (LEFT_BOX[row][1] + 8) / H, PANEL_TAGS[row], fontsize=20,
             family='Open Sans', va='center', ha='left')

    # group velocity
    ax = px_axes(*MID_BOX[row])
    fc = DOT_COLORS[row]
    for f, v in all_vel[row]:
        tube(ax, f, v, fc, 5, 34)
    ax.set_xlim(0, 16)
    ax.set_ylim(0, 8)
    ax.set_xticks(range(0, 17, 2))
    ax.set_yticks(np.arange(0, 8.1, 1.0))
    ax.set_yticklabels(['%.1f' % t for t in np.arange(0, 8.1, 1.0)])
    ax.tick_params(direction='in', top=True, right=True, length=5, width=1.8, labelsize=10.5,
                   labelcolor='#222222')
    ax.set_xlabel('Frequency (THz)', fontsize=14, labelpad=1)
    ax.set_ylabel(r'v$_\lambda$ (10$^3$ ms$^{-1}$)', fontsize=14, labelpad=4)
    frame(ax)
    ax.text(*LABEL_POS_MID[row], PRESSURES[row], transform=ax.transAxes, ha='right', va='center',
            fontsize=15, fontweight='bold', color=TEXT_COLORS[row], family='Open Sans')

    # lifetime
    ax = px_axes(*RIGHT_BOX[row])
    pts = np.array(all_tau[row])
    ax.scatter(pts[:, 0], pts[:, 1], s=32, c=fc, edgecolors='#1a1a1a', linewidths=0.6, zorder=3)
    tr = np.array(all_trace[row])
    tube(ax, tr[:, 0], tr[:, 1], fc, 4, 28)
    ax.set_xlim(0, 16)
    ax.set_ylim(0, 70)
    ax.set_xticks(range(0, 17, 2))
    ax.set_yticks(range(0, 71, 10))
    ax.tick_params(direction='in', top=True, right=True, length=5, width=1.8, labelsize=10.5,
                   labelcolor='#222222')
    ax.set_xlabel('Frequency (THz)', fontsize=14, labelpad=1)
    ax.set_ylabel(r'τ$_\lambda$ (ps)', fontsize=14, labelpad=4)
    frame(ax)
    ax.text(*LABEL_POS_RIGHT[row], PRESSURES[row], transform=ax.transAxes, ha='right', va='center',
            fontsize=15, fontweight='bold', color=TEXT_COLORS[row], family='Open Sans')

fig.savefig('out.png', dpi=100)
